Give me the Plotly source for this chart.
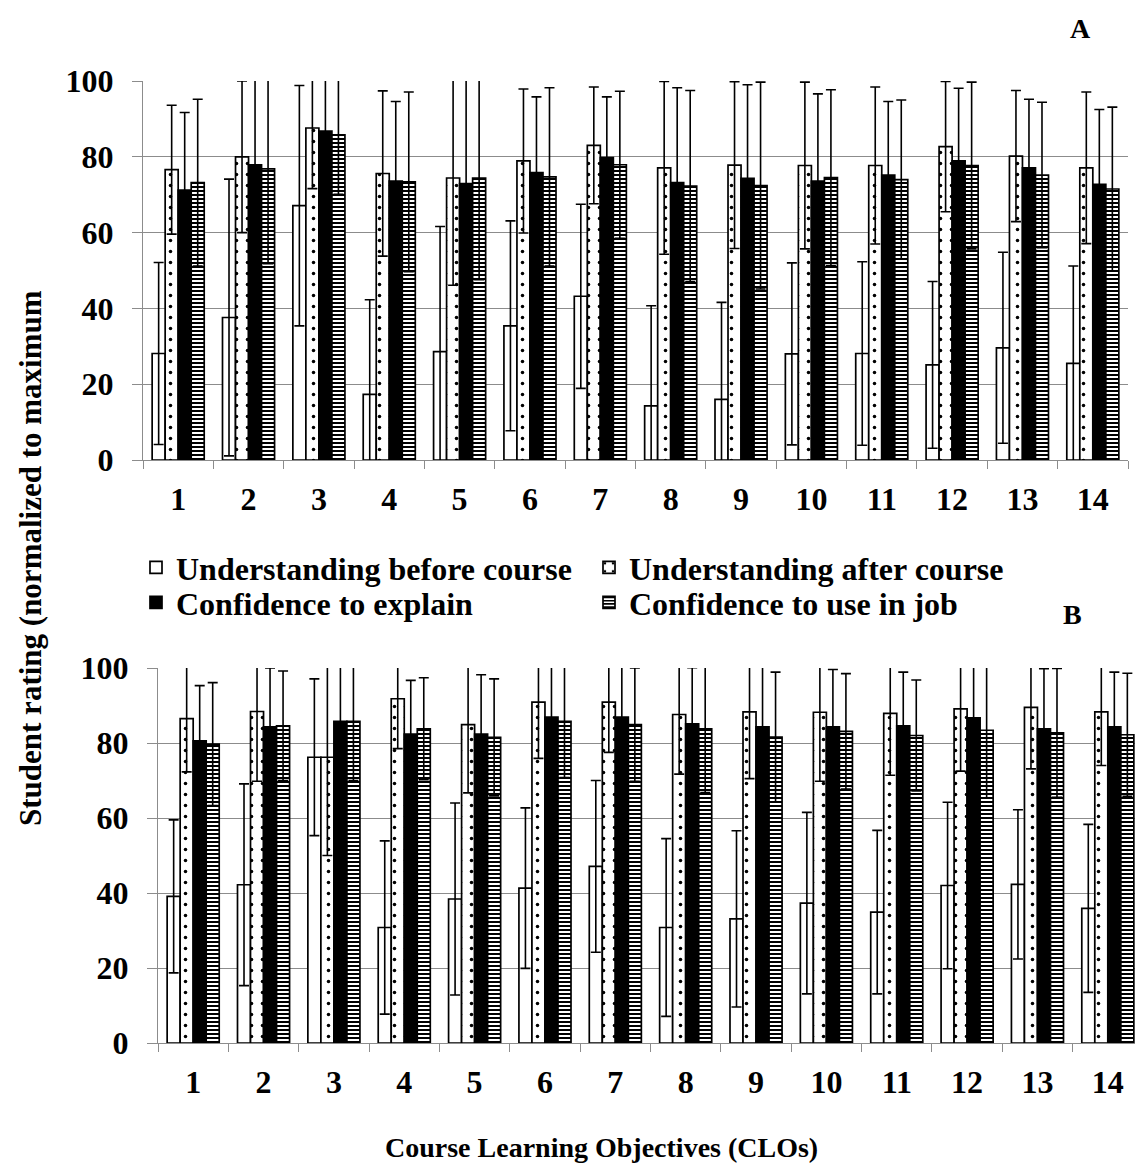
import plotly.graph_objects as go

W, H = 1143, 1174
OFF = 8  # page body margin of the browser

clos = [str(i) for i in range(1, 15)]
series_names = ["Understanding before course", "Understanding after course",
                "Confidence to explain", "Confidence to use in job"]

# Panel A
A_before = [28.1, 37.6, 67.1, 17.3, 28.6, 35.4, 43.2, 14.3, 16.0, 28.0, 28.1, 25.1, 29.6, 25.5]
A_before_sd = [24.0, 36.5, 31.7, 25.0, 33.0, 27.7, 24.3, 26.4, 25.6, 24.0, 24.2, 22.0, 25.2, 25.7]
A_after = [76.6, 80.0, 87.6, 75.6, 74.4, 78.9, 83.0, 77.1, 77.8, 77.7, 77.7, 82.7, 80.2, 77.1]
A_after_sd = [17.0, 20.0, 16.0, 21.8, 28.3, 19.0, 15.4, 22.8, 22.0, 22.0, 20.7, 17.2, 17.3, 20.0]
A_explain = [71.2, 77.9, 86.8, 73.6, 72.9, 75.8, 79.8, 73.2, 74.3, 73.6, 75.2, 78.9, 77.1, 72.7]
A_explain_sd = [20.5, 26.0, 17.0, 21.0, 28.0, 20.0, 16.0, 25.0, 24.7, 23.0, 19.4, 19.2, 18.1, 19.8]
A_job = [73.2, 76.8, 85.8, 73.4, 74.4, 74.7, 77.9, 72.3, 72.4, 74.5, 74.0, 77.7, 75.2, 71.5]
A_job_sd = [22.0, 25.0, 15.7, 23.7, 26.8, 23.5, 19.4, 25.2, 27.3, 23.2, 21.0, 22.0, 19.2, 21.6]

# Panel B
B_before = [39.1, 42.2, 76.2, 30.8, 38.4, 41.3, 47.1, 30.8, 33.1, 37.3, 34.9, 42.0, 42.3, 35.9]
B_before_sd = [20.4, 26.9, 20.9, 23.1, 25.6, 21.4, 22.9, 23.7, 23.5, 24.2, 21.8, 22.2, 19.9, 22.4]
B_after = [86.5, 88.4, 76.2, 91.8, 84.9, 90.9, 90.9, 87.6, 88.3, 88.2, 87.9, 89.1, 89.5, 88.3]
B_after_sd = [14.2, 18.6, 26.2, 13.3, 18.2, 15.0, 13.4, 15.9, 17.8, 18.4, 16.5, 16.6, 16.4, 14.3]
B_explain = [80.6, 84.3, 85.8, 82.4, 82.4, 86.9, 86.9, 85.1, 84.3, 84.3, 84.6, 86.7, 83.8, 84.3]
B_explain_sd = [14.7, 15.7, 15.0, 14.3, 15.8, 15.0, 15.0, 15.0, 16.0, 15.3, 14.3, 15.0, 16.0, 14.6]
B_job = [79.7, 84.6, 85.8, 83.8, 81.5, 85.8, 84.9, 83.8, 81.6, 83.1, 82.0, 83.4, 82.7, 82.2]
B_job_sd = [16.4, 14.6, 15.8, 13.6, 15.6, 15.0, 15.1, 17.0, 17.3, 15.4, 14.8, 18.1, 17.2, 16.4]

y_ticks = [0, 20, 40, 60, 80, 100]

FONT = "Times New Roman, Liberation Serif, serif"

styles = [
    dict(color="white", pattern=None),
    dict(color="white", pattern=dict(shape=".", fgcolor="black", bgcolor="white", size=11, solidity=0.08)),
    dict(color="black", pattern=None),
    dict(color="white", pattern=dict(shape="-", fgcolor="black", bgcolor="white", size=4, solidity=0.5)),
]
legend_ids = ["legend", "legend", "legend2", "legend2"]


def px_x(p):
    return (p - OFF) / W


def px_y(p):
    return 1 - (p - OFF) / H


fig = go.Figure()

panels = [
    ("x", "y", [A_before, A_after, A_explain, A_job], [A_before_sd, A_after_sd, A_explain_sd, A_job_sd], True),
    ("x2", "y2", [B_before, B_after, B_explain, B_job], [B_before_sd, B_after_sd, B_explain_sd, B_job_sd], False),
]

for xa, ya, vals, sds, show in panels:
    for name, v, sd, st, lg in zip(series_names, vals, sds, styles, legend_ids):
        marker = dict(color=st["color"], line=dict(color="black", width=1.7))
        if st["pattern"] is not None:
            marker["pattern"] = st["pattern"]
        fig.add_trace(go.Bar(
            x=clos, y=v, name=name, xaxis=xa, yaxis=ya,
            marker=marker, showlegend=show, legendgroup=name, legend=lg,
            error_y=dict(type="data", array=sd, visible=True, color="black", thickness=1.6, width=5),
            cliponaxis=True,
        ))

axis_common_x = dict(
    type="category", showgrid=False, showline=True, linecolor="#8c8c8c", linewidth=1,
    ticks="outside", tickson="boundaries", ticklen=8, tickcolor="#8c8c8c", tickwidth=1,
    tickfont=dict(family=FONT, size=32, color="black", weight="bold"),
    ticklabelstandoff=11, automargin=False,
)
axis_common_y = dict(
    range=[0, 100], tickvals=y_ticks, showgrid=True, gridcolor="#8c8c8c", gridwidth=1,
    showline=True, linecolor="#8c8c8c", linewidth=1, ticks="outside", ticklen=10,
    tickcolor="#8c8c8c", tickwidth=1, zeroline=False,
    tickfont=dict(family=FONT, size=32, color="black", weight="bold"),
    ticklabelstandoff=12, automargin=False,
)

legend_common = dict(
    orientation="h", xanchor="left", yanchor="top",
    entrywidth=408, entrywidthmode="pixels", traceorder="normal",
    font=dict(family=FONT, size=32, color="black", weight="bold"),
    itemwidth=30, tracegroupgap=0, bgcolor="rgba(0,0,0,0)",
)

fig.update_layout(
    template="none",
    width=W, height=H,
    margin=dict(l=0, r=0, t=0, b=0, pad=0),
    paper_bgcolor="white", plot_bgcolor="white",
    barmode="group", bargap=0.26, bargroupgap=0,
    xaxis=dict(domain=[px_x(143), px_x(1128)], anchor="y", **axis_common_x),
    yaxis=dict(domain=[px_y(460), px_y(81)], anchor="x", **axis_common_y),
    xaxis2=dict(domain=[px_x(158), px_x(1143)], anchor="y2", **axis_common_x),
    yaxis2=dict(domain=[px_y(1043), px_y(668)], anchor="x2", **axis_common_y),
    legend=dict(x=px_x(136), y=px_y(540), **legend_common),
    legend2=dict(x=px_x(136), y=px_y(575), **legend_common),
    font=dict(family=FONT, color="black"),
    annotations=[
        dict(text="<b>A</b>", x=px_x(1080), y=px_y(28), xref="paper", yref="paper",
             xanchor="center", yanchor="middle",
             showarrow=False, font=dict(family=FONT, size=28, color="black")),
        dict(text="<b>B</b>", x=px_x(1072), y=px_y(614), xref="paper", yref="paper",
             xanchor="center", yanchor="middle",
             showarrow=False, font=dict(family=FONT, size=28, color="black")),
        dict(text="<b>Student rating (normalized to maximum</b>", x=px_x(30), y=px_y(558),
             xref="paper", yref="paper", showarrow=False, textangle=-90,
             xanchor="center", yanchor="middle",
             font=dict(family=FONT, size=31, color="black")),
        dict(text="<b>Course Learning Objectives (CLOs)</b>", x=px_x(601), y=px_y(1147),
             xref="paper", yref="paper", showarrow=False,
             xanchor="center", yanchor="middle",
             font=dict(family=FONT, size=28, color="black")),
    ],
)

fig.write_html("out.html")
